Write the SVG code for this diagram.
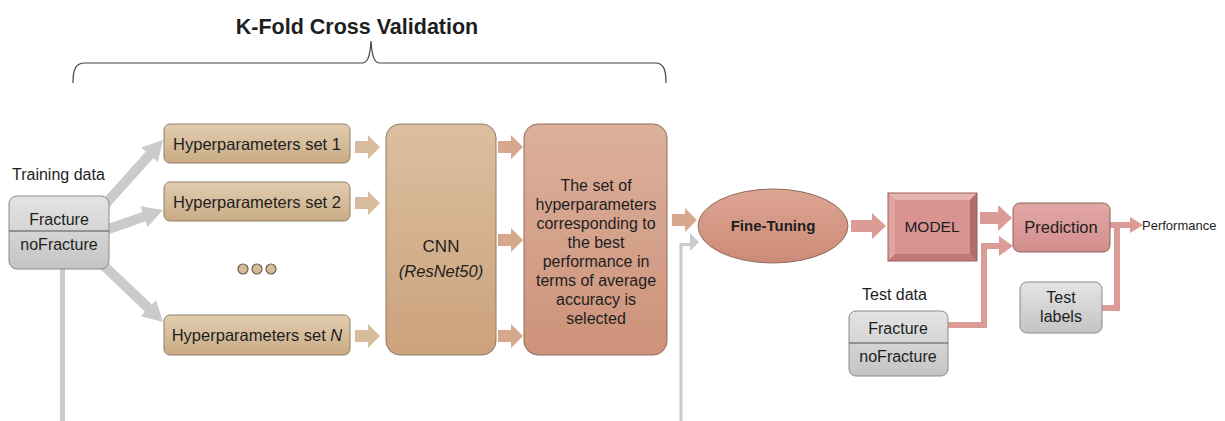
<svg xmlns="http://www.w3.org/2000/svg" width="1225" height="421" viewBox="0 0 1225 421">
<defs>
<linearGradient id="gTan" x1="0" y1="0" x2="0" y2="1"><stop offset="0" stop-color="#e2cdb0"/><stop offset="1" stop-color="#c9ab85"/></linearGradient>
<linearGradient id="gCnn" x1="0" y1="0" x2="0" y2="1"><stop offset="0" stop-color="#dcbf9f"/><stop offset="1" stop-color="#cba27c"/></linearGradient>
<linearGradient id="gSel" x1="0" y1="0" x2="0" y2="1"><stop offset="0" stop-color="#dcb09b"/><stop offset="1" stop-color="#cd927a"/></linearGradient>
<linearGradient id="gEll" x1="0" y1="0" x2="0" y2="1"><stop offset="0" stop-color="#dca592"/><stop offset="1" stop-color="#cc8b78"/></linearGradient>
<linearGradient id="gPred" x1="0" y1="0" x2="0" y2="1"><stop offset="0" stop-color="#e2a8a6"/><stop offset="1" stop-color="#d28e8c"/></linearGradient>
<linearGradient id="gGray" x1="0" y1="0" x2="0" y2="1"><stop offset="0" stop-color="#e4e4e4"/><stop offset="1" stop-color="#c4c4c4"/></linearGradient>
<path id="arr" d="M0,-6 H13 V-12 L25,0 L13,12 V6 H0 Z"/>
</defs>
<style>
text{font-family:"Liberation Sans",Arial,sans-serif;fill:#1e1e1e}
.hp{fill:url(#gTan);stroke:#8f7f66;stroke-width:1}
.gb{fill:url(#gGray);stroke:#8a8a8a;stroke-width:1}
.t15{font-size:16px}
.hpt{font-size:16.5px}
.c{text-anchor:middle}
.tanArr{fill:#d8bd9c}
.salArr{fill:#d7a88e}
.pinkArr{fill:#dc9c96}
.grayArr{fill:#cbcbcb}
</style>

<g id="title">
<text x="357" y="34" class="c" style="font-size:21.5px;font-weight:bold">K-Fold Cross Validation</text>
<path d="M73,83 C73,70 75,63 85,63 H362 C367,63 370,58 371,41 C372,58 375,63 380,63 H655 C664,63 666,70 666,83" fill="none" stroke="#444" stroke-width="1.2"/>
</g>

<g id="connectors">
<polygon class="grayArr" points="103.7,213.3 153.3,158.2 157.8,162.3 163,140 141.4,147.5 145.9,151.6 96.3,206.7"/>
<polygon class="grayArr" points="101.65,236.7 145.75,221.3 147.7,227 163,210 140.5,206.2 142.45,211.9 98.35,227.3"/>
<polygon class="grayArr" points="96.55,265.6 145.05,311.8 140.9,316.2 163,322 156.1,300.2 151.95,304.6 103.45,258.4"/>
<rect class="grayArr" x="60" y="268" width="5" height="153"/>
<use href="#arr" x="355" y="147" class="tanArr"/>
<use href="#arr" x="355" y="203" class="tanArr"/>
<use href="#arr" x="355" y="336" class="tanArr"/>
<use href="#arr" x="498" y="147" class="salArr"/>
<use href="#arr" x="498" y="240" class="salArr"/>
<use href="#arr" x="498" y="336" class="salArr"/>
<use href="#arr" x="672" y="220" class="salArr"/>
<path d="M679.5,421 V243 H690 V233 L699,242 L690,251 V246 H682.5 V421 Z" class="grayArr"/>
<polygon class="pinkArr" points="851,220 872,220 872,213 886,226 872,239 872,232 851,232"/>
<polygon class="pinkArr" points="980,212 998,212 998,205 1012,218 998,231 998,224 980,224"/>
<path d="M948,325 H984 V246 H1000" fill="none" stroke="#dc9c96" stroke-width="6"/>
<polygon class="pinkArr" points="999,236 1013,246 999,256"/>
<path d="M1102,308 H1117 V225 H1130" fill="none" stroke="#dc9c96" stroke-width="6"/>
<polygon class="pinkArr" points="1110,222 1130,222 1130,217 1143,225 1130,233 1130,228 1110,228"/>
</g>

<g id="training-data">
<text x="12" y="180" class="t15">Training data</text>
<rect class="gb" x="9" y="196" width="100" height="73" rx="8"/>
<line x1="9" y1="231" x2="109" y2="231" stroke="#555" stroke-width="1.2"/>
<text x="59" y="225" class="t15 c">Fracture</text>
<text x="59" y="250" class="t15 c">noFracture</text>
</g>

<g id="hp1">
<rect class="hp" x="164" y="124" width="186" height="39" rx="6"/>
<text x="257" y="149.5" class="hpt c">Hyperparameters set 1</text>
</g>
<g id="hp2">
<rect class="hp" x="164" y="182" width="186" height="39" rx="6"/>
<text x="257" y="207.5" class="hpt c">Hyperparameters set 2</text>
</g>
<g id="dots">
<circle cx="243" cy="269" r="5" fill="#d6bc98" stroke="#6e6050" stroke-width="1.2"/>
<circle cx="257" cy="269" r="5" fill="#d6bc98" stroke="#6e6050" stroke-width="1.2"/>
<circle cx="271" cy="269" r="5" fill="#d6bc98" stroke="#6e6050" stroke-width="1.2"/>
</g>
<g id="hpN">
<rect class="hp" x="164" y="315" width="186" height="40" rx="6"/>
<text x="257" y="341" class="hpt c">Hyperparameters set <tspan font-style="italic">N</tspan></text>
</g>

<g id="cnn">
<rect x="386" y="124" width="110" height="231" rx="14" fill="url(#gCnn)" stroke="#8f7a60" stroke-width="1"/>
<text x="441" y="252" class="c" style="font-size:17px">CNN</text>
<text x="441" y="277" class="c" style="font-size:16.5px;font-style:italic">(ResNet50)</text>
</g>

<g id="selection">
<rect x="524" y="124" width="143" height="231" rx="14" fill="url(#gSel)" stroke="#8f6a58" stroke-width="1"/>
<g class="t15 c">
<text x="596" y="191">The set of</text>
<text x="596" y="210">hyperparameters</text>
<text x="596" y="229">corresponding to</text>
<text x="596" y="248">the best</text>
<text x="596" y="267">performance in</text>
<text x="596" y="286">terms of average</text>
<text x="596" y="305">accuracy is</text>
<text x="596" y="324">selected</text>
</g>
</g>

<g id="fine-tuning">
<ellipse cx="773" cy="226" rx="75" ry="37" fill="url(#gEll)" stroke="#8f6a5e" stroke-width="1"/>
<text x="773" y="231" class="c" style="font-size:15px;font-weight:bold">Fine-Tuning</text>
</g>

<g id="model">
<rect x="888" y="193" width="89" height="68" fill="#d99492"/>
<polygon points="888,193 977,193 970,200 895,200" fill="#e8b6b0"/>
<polygon points="888,193 895,200 895,254 888,261" fill="#dfa3a0"/>
<polygon points="977,193 977,261 970,254 970,200" fill="#b26c6a"/>
<polygon points="888,261 977,261 970,254 895,254" fill="#bf7a78"/>
<rect x="888" y="193" width="89" height="68" fill="none" stroke="#9a5f5d" stroke-width="1"/>
<text x="932" y="232" class="c" style="font-size:15.5px">MODEL</text>
</g>

<g id="prediction">
<rect x="1013" y="203" width="97" height="49" rx="7" fill="url(#gPred)" stroke="#8f5f5d" stroke-width="1"/>
<text x="1061" y="233" class="c" style="font-size:16.5px">Prediction</text>
</g>

<g id="performance">
<text x="1142" y="230" style="font-size:13px">Performance</text>
</g>

<g id="test-labels">
<rect class="gb" x="1020" y="282" width="82" height="51" rx="7"/>
<text x="1061" y="303" class="t15 c">Test</text>
<text x="1061" y="322" class="t15 c">labels</text>
</g>

<g id="test-data">
<text x="862" y="300" class="t15">Test data</text>
<rect class="gb" x="849" y="311" width="99" height="65" rx="7"/>
<line x1="849" y1="343" x2="948" y2="343" stroke="#555" stroke-width="1.2"/>
<text x="898" y="334" class="t15 c">Fracture</text>
<text x="898" y="362" class="t15 c">noFracture</text>
</g>
</svg>
